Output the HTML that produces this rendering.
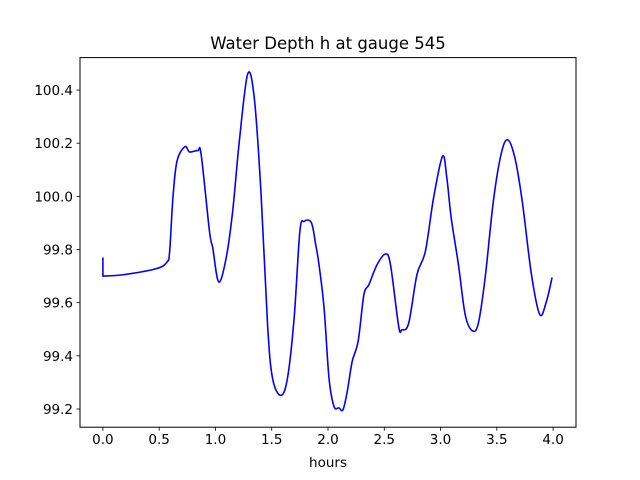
<!DOCTYPE html>
<html><head><meta charset="utf-8"><style>
body{margin:0;background:#fff;}
svg{display:block;font-family:"DejaVu Sans","Liberation Sans",sans-serif;}
</style></head><body>
<svg id="chart" width="640" height="480" viewBox="0 0 640 480">
<rect width="640" height="480" fill="#fff"/>
<text x="328" y="49" font-size="16.5" text-anchor="middle">Water Depth h at gauge 545</text>
<g id="plot"></g>
<rect x="80" y="57.6" width="496" height="369.6" fill="none" stroke="#000" stroke-width="1"/>
<text x="328" y="467" font-size="13.5" text-anchor="middle">hours</text>
</svg>
<script>
const hours=[0.00,0.00,0.18,0.475,0.57,0.593,0.622,0.658,0.728,0.77,0.843,0.873,0.947,0.976,1.029,1.095,1.153,1.212,1.286,1.345,1.404,1.463,1.507,1.581,1.640,1.699,1.750,1.788,1.852,1.891,1.920,1.965,2.009,2.053,2.097,2.133,2.171,2.215,2.268,2.319,2.363,2.436,2.511,2.555,2.628,2.657,2.717,2.790,2.865,2.938,3.018,3.056,3.095,3.159,3.219,3.283,3.336,3.396,3.469,3.537,3.596,3.661,3.726,3.808,3.882,3.941,3.991];
const depth=[99.77,99.70,99.705,99.728,99.753,99.793,99.994,100.132,100.187,100.167,100.172,100.157,99.868,99.806,99.678,99.768,99.944,100.207,100.46,100.37,100.019,99.517,99.316,99.251,99.316,99.542,99.868,99.906,99.901,99.818,99.743,99.58,99.316,99.21,99.204,99.197,99.266,99.379,99.455,99.63,99.667,99.743,99.783,99.743,99.511,99.498,99.523,99.705,99.793,99.994,100.151,100.069,99.918,99.743,99.555,99.494,99.523,99.693,99.981,100.157,100.213,100.144,99.981,99.705,99.555,99.605,99.695];
const xTicks=[0,0.5,1,1.5,2,2.5,3,3.5,4];
const xTickLabels=["0.0","0.5","1.0","1.5","2.0","2.5","3.0","3.5","4.0"];
const yTicks=[99.2,99.4,99.6,99.8,100.0,100.2,100.4];
const yTickLabels=["99.2","99.4","99.6","99.8","100.0","100.2","100.4"];

const L=80,R=576,T=57.6,B=427.2;
const xmin=-0.2035,xmax=4.2035,ymin=99.1315,ymax=100.522;
const sx=v=>L+(v-xmin)/(xmax-xmin)*(R-L);
const sy=v=>B-(v-ymin)/(ymax-ymin)*(B-T);
const NS="http://www.w3.org/2000/svg";
const g=document.getElementById('plot');
function mk(tag,attrs){const e=document.createElementNS(NS,tag);for(const k in attrs)e.setAttribute(k,attrs[k]);g.appendChild(e);return e;}
xTicks.forEach((v,i)=>{
  const t=mk('line',{x1:sx(v),x2:sx(v),y1:B,y2:B+3.5,stroke:'#000','stroke-width':0.8});
  
  
  const l=mk('text',{x:sx(v),y:B+17,'font-size':13.5,'text-anchor':'middle'});
  l.textContent=xTickLabels[i];
  
  
});
yTicks.forEach((v,i)=>{
  const t=mk('line',{x1:L-3.5,x2:L,y1:sy(v),y2:sy(v),stroke:'#000','stroke-width':0.8});
  
  
  const l=mk('text',{x:L-7,y:sy(v)+5,'font-size':13.5,'text-anchor':'end'});
  l.textContent=yTickLabels[i];
  
  
});
const P=hours.map((h,i)=>[sx(h),sy(depth[i])]);
let d='M'+P[0][0]+','+P[0][1]+' L'+P[1][0]+','+P[1][1];
for(let i=1;i<P.length-1;i++){
  const p0=P[Math.max(i-1,1)],p1=P[i],p2=P[i+1],p3=P[Math.min(i+2,P.length-1)];
  const c1=[p1[0]+(p2[0]-p0[0])/6,p1[1]+(p2[1]-p0[1])/6];
  const c2=[p2[0]-(p3[0]-p1[0])/6,p2[1]-(p3[1]-p1[1])/6];
  d+=' C'+c1[0]+','+c1[1]+' '+c2[0]+','+c2[1]+' '+p2[0]+','+p2[1];
}
const line=mk('path',{d:d,fill:'none',stroke:'#0000ff','stroke-width':1.6,'stroke-linejoin':'round'});


</script>
</body></html>
